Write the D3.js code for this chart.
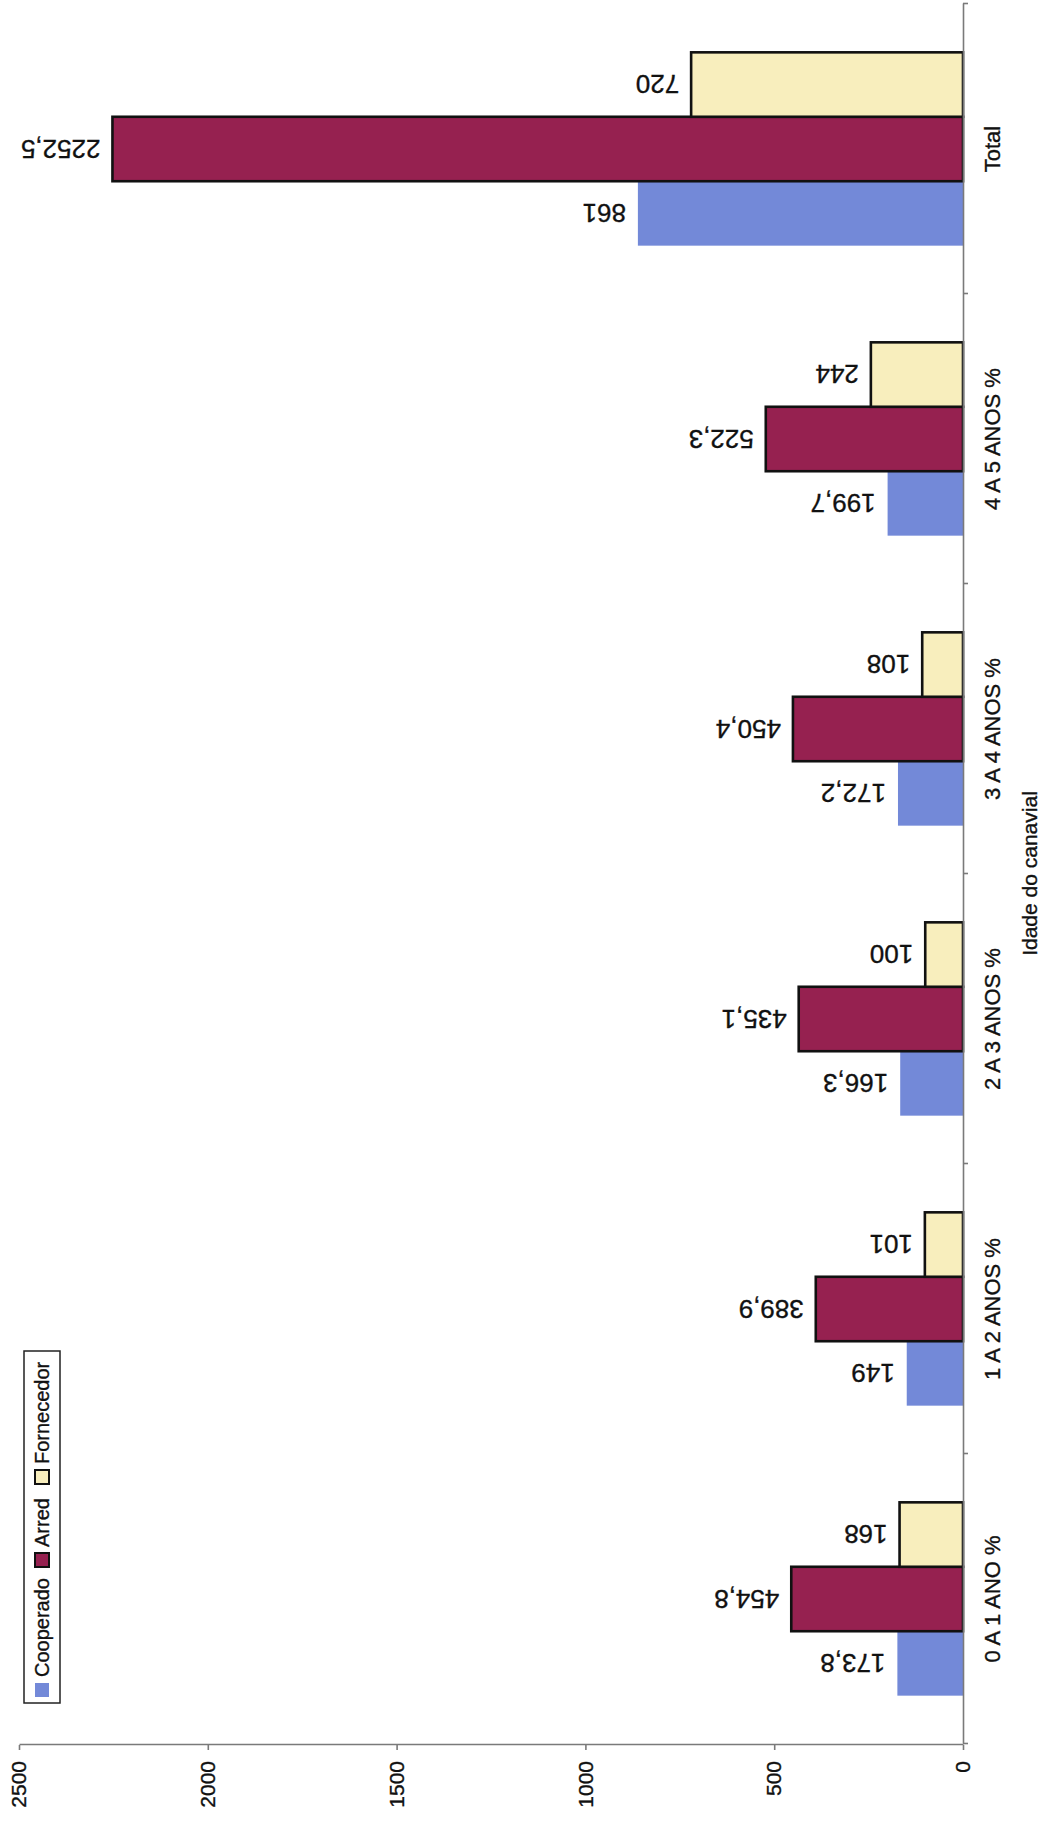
<!DOCTYPE html>
<html>
<head>
<meta charset="utf-8">
<script src="https://cdn.jsdelivr.net/npm/d3@7"></script>
<style>
  html, body { margin: 0; padding: 0; background: #fff; }
  svg { display: block; }
  text { font-family: "Liberation Sans", Arial, sans-serif; fill: #111; stroke: #111; stroke-width: 0.35px; }
</style>
</head>
<body>
<svg id="chart" width="1050" height="1822"></svg>
<script>
// Idade do canavial — values per age band
const categories = ["0 A 1 ANO %", "1 A 2 ANOS %", "2 A 3 ANOS %", "3 A 4 ANOS %", "4 A 5 ANOS %", "Total"];
const seriesNames = ["Cooperado", "Arred", "Fornecedor"];
const cooperado = [173.8, 149, 166.3, 172.2, 199.7, 861];
const arred = [454.8, 389.9, 435.1, 450.4, 522.3, 2252.5];
const fornecedor = [168, 101, 100, 108, 244, 720];
const valueTicks = [0, 500, 1000, 1500, 2000, 2500];
const axisTitle = "Idade do canavial";

const seriesValues = [cooperado, arred, fornecedor];
const colors = { Cooperado: "#7389d8", Arred: "#962150", Fornecedor: "#f8eebd" };
const strokes = { Cooperado: "none", Arred: "#111", Fornecedor: "#111" };

const frameW = 1822; // drawing frame width before the page turn
const svg = d3.select("#chart");
const g = svg.append("g").attr("transform", `translate(0,${frameW}) rotate(-90)`);

const plotLeft = 77, plotRight = 1818, plotTop = 19, plotBase = 963;

const x0 = d3.scaleBand().domain(categories).range([plotLeft + 1, plotRight])
  .paddingInner(1 / 3).paddingOuter(1 / 6);
const x1 = d3.scaleBand().domain(seriesNames).range([0, x0.bandwidth()]);
const y = d3.scaleLinear().domain([0, 2500]).range([plotBase, plotTop]);

const rows = categories.map((c, i) => ({
  category: c,
  values: seriesNames.map((s, k) => ({ series: s, value: seriesValues[k][i] }))
}));

const fmt = d3.formatLocale({ decimal: ",", thousands: ".", grouping: [3], currency: ["", ""] }).format("~f");

// bars
const groups = g.append("g").selectAll("g").data(rows).join("g")
  .attr("transform", d => `translate(${x0(d.category)},0)`);

groups.selectAll("rect").data(d => d.values).join("rect")
  .attr("x", d => x1(d.series))
  .attr("y", d => y(d.value))
  .attr("width", x1.bandwidth())
  .attr("height", d => y(0) - y(d.value))
  .attr("fill", d => colors[d.series])
  .attr("stroke", d => strokes[d.series])
  .attr("stroke-width", 2.6);

// value labels above each bar
groups.selectAll("text.val").data(d => d.values).join("text")
  .attr("class", "val")
  .attr("transform", d => `translate(${x1(d.series) + x1.bandwidth() / 2},${y(d.value) - 12}) rotate(-90)`)
  .attr("dy", "0.36em")
  .attr("text-anchor", "start")
  .style("font-size", "26px")
  .text(d => fmt(d.value));

// value axis
const yAxis = g.append("g").attr("transform", `translate(${plotLeft},0)`)
  .call(d3.axisLeft(y).tickValues(valueTicks).tickSize(5).tickPadding(11).tickSizeOuter(0).tickFormat(d3.format("d")));
yAxis.selectAll("text").style("font-size", "21px");

// category axis: boundary ticks
const bounds = d3.scaleLinear().domain([0, categories.length]).range([plotLeft + 1, plotRight]);
g.append("g").attr("transform", `translate(0,${plotBase})`)
  .call(d3.axisBottom(bounds).ticks(categories.length).tickSize(5).tickSizeOuter(0).tickFormat(""));

// category axis: labels
const xAxisLabels = g.append("g").attr("transform", `translate(0,${plotBase})`)
  .call(d3.axisBottom(x0).tickSize(0).tickPadding(21));
xAxisLabels.select(".domain").remove();
xAxisLabels.selectAll("text").style("font-size", "22px");

g.selectAll(".domain, .tick line").attr("stroke", "#7a7a7a").attr("stroke-width", 1.6);

// axis title
g.append("text")
  .attr("x", (plotLeft + plotRight) / 2 + 1)
  .attr("y", 1037)
  .attr("text-anchor", "middle")
  .style("font-size", "21px")
  .text(axisTitle);

// legend
const legend = g.append("g");
legend.append("rect")
  .attr("x", 119).attr("y", 24).attr("width", 352).attr("height", 36)
  .attr("fill", "#fff").attr("stroke", "#222").attr("stroke-width", 1.5);
const legendX = { Cooperado: 125, Arred: 255, Fornecedor: 338 };
const items = legend.selectAll("g.item").data(seriesNames).join("g").attr("class", "item")
  .attr("transform", d => `translate(${legendX[d]},35)`);
items.append("rect")
  .attr("width", 14).attr("height", 14)
  .attr("fill", d => colors[d])
  .attr("stroke", d => strokes[d])
  .attr("stroke-width", 2);
items.append("text")
  .attr("x", 20).attr("y", 14)
  .style("font-size", "20px")
  .text(d => d);
</script>
</body>
</html>
